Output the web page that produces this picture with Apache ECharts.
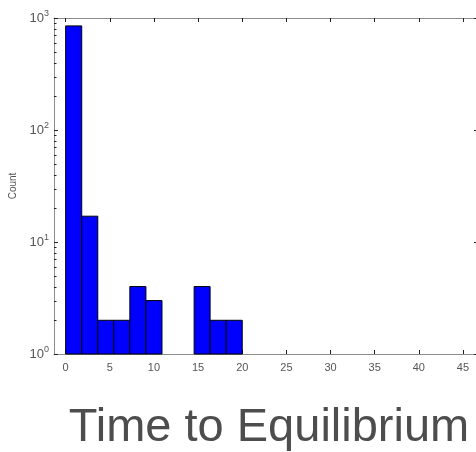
<!DOCTYPE html>
<html>
  <head>
	<meta charset="UTF-8">
	<title>Time to Equilibrium</title>
	<script src="https://cdn.jsdelivr.net/npm/echarts@6/dist/echarts.min.js"></script>
	<style>
	  html, body { margin: 0; padding: 0; background: #fff; }
	  #chart { width: 476px; height: 452px; }
	</style>
  </head>
  <body>
	<div id="chart"></div>
	<script type="text/javascript">
	 // histogram bins (edges) and counts
	 var binEdges = [0, 1.82, 3.64, 5.45, 7.27, 9.09, 10.91, 12.73, 14.55, 16.36, 18.18, 20];
	 var counts = [850, 17, 2, 2, 4, 3, 0, 0, 4, 2, 2];
	 var xTicks = [0, 5, 10, 15, 20, 25, 30, 35, 40, 45];
	 var yMajor = [1, 10, 100, 1000];
	 var yMinor = [2, 3, 4, 5, 6, 7, 8, 9, 20, 30, 40, 50, 60, 70, 80, 90, 200, 300, 400, 500, 600, 700, 800, 900];

	 var bars = [];
	 for (var i = 0; i < counts.length; i++) {
	   if (counts[i] > 0) bars.push([binEdges[i], binEdges[i + 1], counts[i]]);
	 }

	 var chart = echarts.init(document.getElementById('chart'));
	 var grey = '#555';
	 var axisLine = { show: true, onZero: false, lineStyle: { color: '#8c8c8c', width: 1 } };

	 chart.setOption({
	   animation: false,
	   grid: { left: 54, right: -2, top: 18, bottom: 98, containLabel: false, outerBoundsMode: 'none' },
	   xAxis: [{
	     type: 'value', min: -1.32, max: 46.7, position: 'bottom',
	     splitLine: { show: false },
	     axisLine: axisLine,
	     axisTick: { inside: true, length: 4, customValues: xTicks, lineStyle: { color: '#222' } },
	     axisLabel: { customValues: xTicks, color: grey, fontSize: 11, margin: 8, fontFamily: 'Liberation Sans' },
	     name: 'Time to Equilibrium', nameLocation: 'middle', nameGap: 51,
	     nameTextStyle: { fontSize: 47, color: '#4d4d4d', fontFamily: 'Liberation Sans', padding: [0, 0, 0, 6] }
	   }, {
	     type: 'value', min: -1.32, max: 46.7, position: 'top',
	     splitLine: { show: false },
	     axisLine: axisLine,
	     axisTick: { inside: true, length: 4, customValues: xTicks, lineStyle: { color: '#222' } },
	     axisLabel: { show: false }
	   }],
	   yAxis: [{
	     type: 'log', min: 1, max: 1000, logBase: 10, position: 'left',
	     splitLine: { show: false },
	     axisLine: axisLine,
	     axisTick: { inside: true, length: 4, customValues: yMajor, lineStyle: { color: '#222' } },
	     axisLabel: {
	       customValues: yMajor, margin: 5,
	       formatter: function (v) {
	         return '{b|10}{s|' + Math.round(Math.log10(v)) + '}';
	       },
	       rich: {
	         b: { fontSize: 13, color: grey, fontFamily: 'Liberation Sans' },
	         s: { fontSize: 9, color: grey, fontFamily: 'Liberation Sans', padding: [0, 0, 9, 0] }
	       }
	     },
	     name: 'Count', nameLocation: 'middle', nameGap: 27,
	     nameTextStyle: { fontSize: 10, color: grey, fontFamily: 'Liberation Sans' }
	   }, {
	     type: 'log', min: 1, max: 1000, logBase: 10, position: 'right',
	     splitLine: { show: false },
	     axisLine: axisLine,
	     axisTick: { inside: true, length: 4, customValues: yMajor, lineStyle: { color: '#222' } },
	     axisLabel: { show: false }
	   }],
	   series: [{
	     type: 'custom',
	     xAxisIndex: 0, yAxisIndex: 0,
	     data: bars,
	     renderItem: function (params, api) {
	       var p0 = api.coord([api.value(0), 1]);
	       var p1 = api.coord([api.value(1), api.value(2)]);
	       return {
	         type: 'rect',
	         shape: { x: p0[0], y: p1[1], width: p1[0] - p0[0], height: p0[1] - p1[1] },
	         style: { fill: '#0000ff', stroke: '#000', lineWidth: 1 }
	       };
	     }
	   }, {
	     // minor log ticks on the left axis
	     type: 'custom',
	     xAxisIndex: 0, yAxisIndex: 0,
	     silent: true,
	     data: yMinor.map(function (v) { return [0, v]; }),
	     renderItem: function (params, api) {
	       var y = Math.round(api.coord([0, api.value(1)])[1]) + 0.5;
	       var x = params.coordSys.x;
	       return {
	         type: 'line',
	         shape: { x1: x, y1: y, x2: x + 2.5, y2: y },
	         style: { stroke: '#222', lineWidth: 1 }
	       };
	     }
	   }]
	 });
	</script>
  </body>
</html>
